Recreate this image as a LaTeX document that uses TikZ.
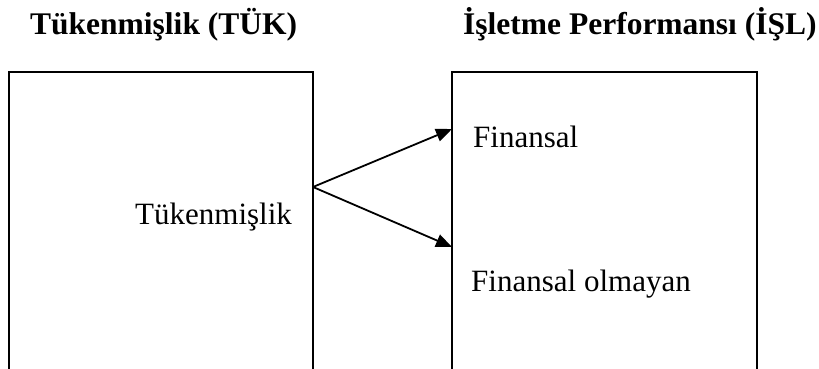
\documentclass[tikz,border=0pt]{standalone}
\usepackage{fontspec}
\setmainfont{Liberation Serif}
\usetikzlibrary{arrows.meta}
\begin{document}
\begin{tikzpicture}[x=1pt,y=1pt,
  boxline/.style={line width=2pt},
  conn/.style={line width=1.8pt,-{Triangle[length=16pt,width=13pt]}},
  body/.style={inner sep=0pt,font=\fontsize{31}{37}\selectfont},
  title/.style={inner sep=0pt,font=\bfseries\fontsize{31.5}{38}\selectfont}]
\useasboundingbox (0,0) rectangle (819,369);
% boxes (open at bottom, clipped by page edge)
\draw[boxline] (9,0) -- (9,297) -- (313,297) -- (313,0);
\draw[boxline] (452,0) -- (452,297) -- (757,297) -- (757,0);
\coordinate (src) at (313,182);
\coordinate (tipA) at (452,240);
\coordinate (tipB) at (452,122);
\draw[conn] (src) -- (tipA);
\draw[conn] (src) -- (tipB);
\node[title,anchor=base west] (t1) at (30,334) {Tükenmişlik (TÜK)};
\node[title,anchor=base west] (t2) at (463,334) {İşletme Performansı (İŞL)};
\node[body,anchor=base west] (tuk) at (135,144) {Tükenmişlik};
\node[body,anchor=base west] (fin) at (473,221) {Finansal};
\node[body,anchor=base west] (finol) at (471,77) {Finansal olmayan};
\end{tikzpicture}
\end{document}
